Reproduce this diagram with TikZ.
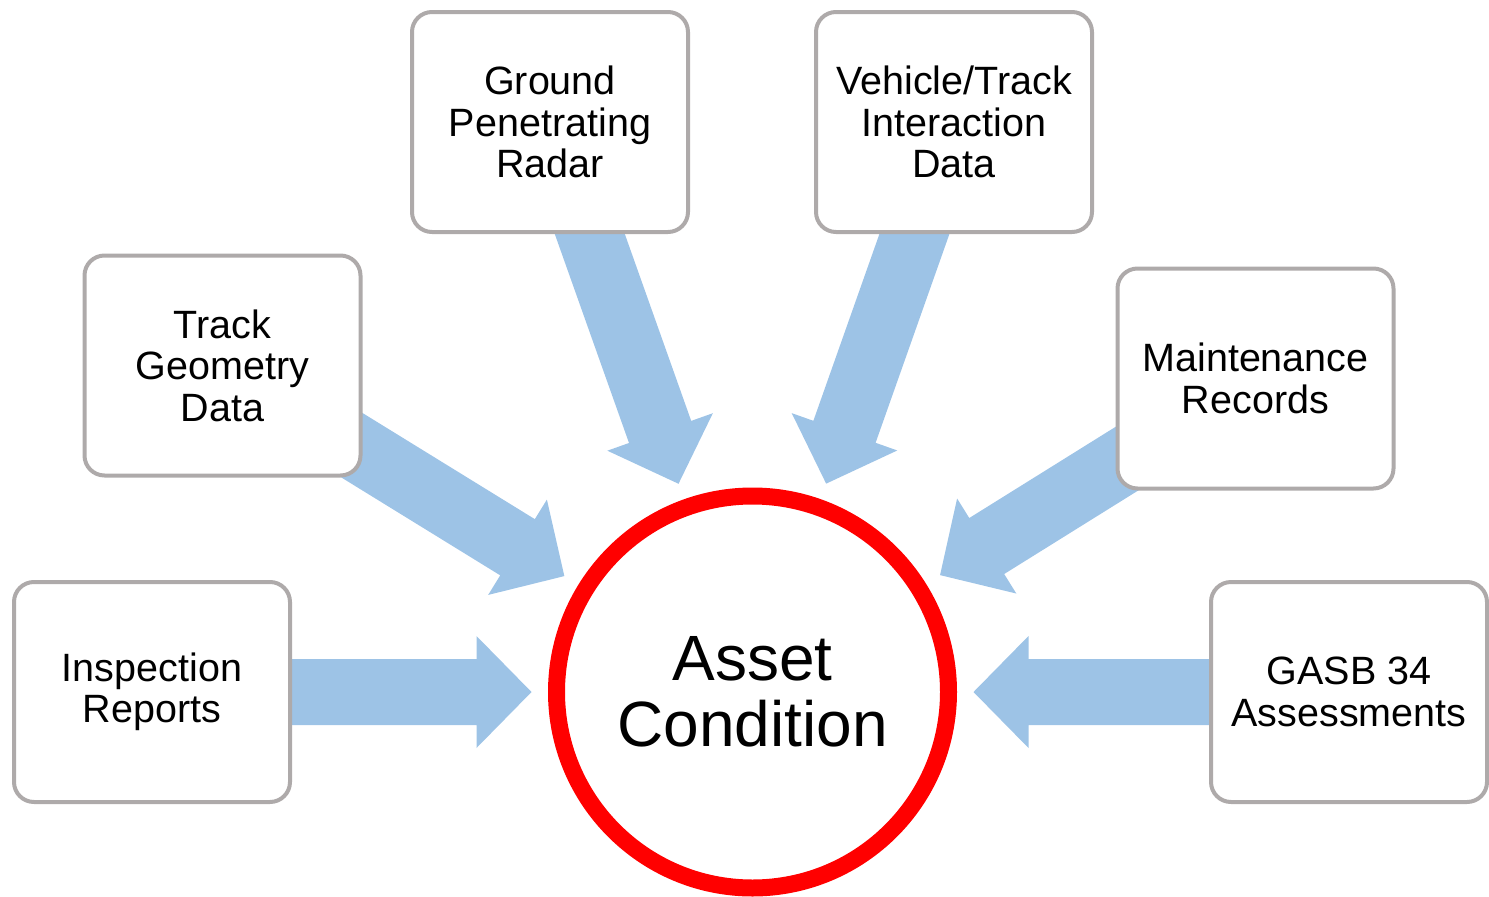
\documentclass[tikz,border=0pt]{standalone}
\usepackage{fontspec}
\setmainfont{Liberation Sans}
\usetikzlibrary{calc,backgrounds}
\definecolor{boxgray}{RGB}{174,170,170}
\definecolor{feedblue}{RGB}{157,195,230}
% block arrow from a source box towards the asset circle
\newcommand{\feedarrow}[1]{%
  \coordinate (tip) at ($(asset.center)!221pt!(#1.center)$);
  \coordinate (neck) at ($(tip)!55pt!(#1.center)$);
  \fill[feed] ($(#1.center)!33pt!90:(tip)$) -- ($(neck)!33pt!90:(tip)$)
    -- ($(neck)!56pt!90:(tip)$) -- (tip) -- ($(neck)!56pt!-90:(tip)$)
    -- ($(neck)!33pt!-90:(tip)$) -- ($(#1.center)!33pt!-90:(tip)$) -- cycle;
}
\begin{document}
\begin{tikzpicture}[x=1pt,y=-1pt,
	source/.style={draw=boxgray,line width=4pt,fill=white,rounded corners=20pt,
		minimum width=276pt,minimum height=220pt,align=center,
		font=\fontsize{39.5}{41.5}\selectfont},
	feed/.style={fill=feedblue}]
		\useasboundingbox (0,0) rectangle (1489,897);
		\node[source] (insp) at (152,692) {Inspection\\Reports};
		\node[source] (track) at (222.5,365.5) {Track\\Geometry\\Data};
		\node[source] (gpr) at (550,122) {Ground\\Penetrating\\Radar};
		\node[source] (vti) at (954,122) {Vehicle/Track\\Interaction\\Data};
		\node[source] (maint) at (1255.5,378.5) {Maintenance\\Records};
		\node[source] (gasb) at (1349,692) {GASB 34\\Assessments};
		\node[circle,draw=red,line width=17pt,fill=white,minimum size=392pt,inner sep=0pt,
			align=center,font=\fontsize{64}{66}\selectfont] (asset) at (752.5,692) {Asset\\Condition};
		\begin{scope}[on background layer]
		\foreach \src in {insp,track,gpr,vti,maint,gasb}
			{\feedarrow{\src}}
		\end{scope}
		\end{tikzpicture}
\end{document}
